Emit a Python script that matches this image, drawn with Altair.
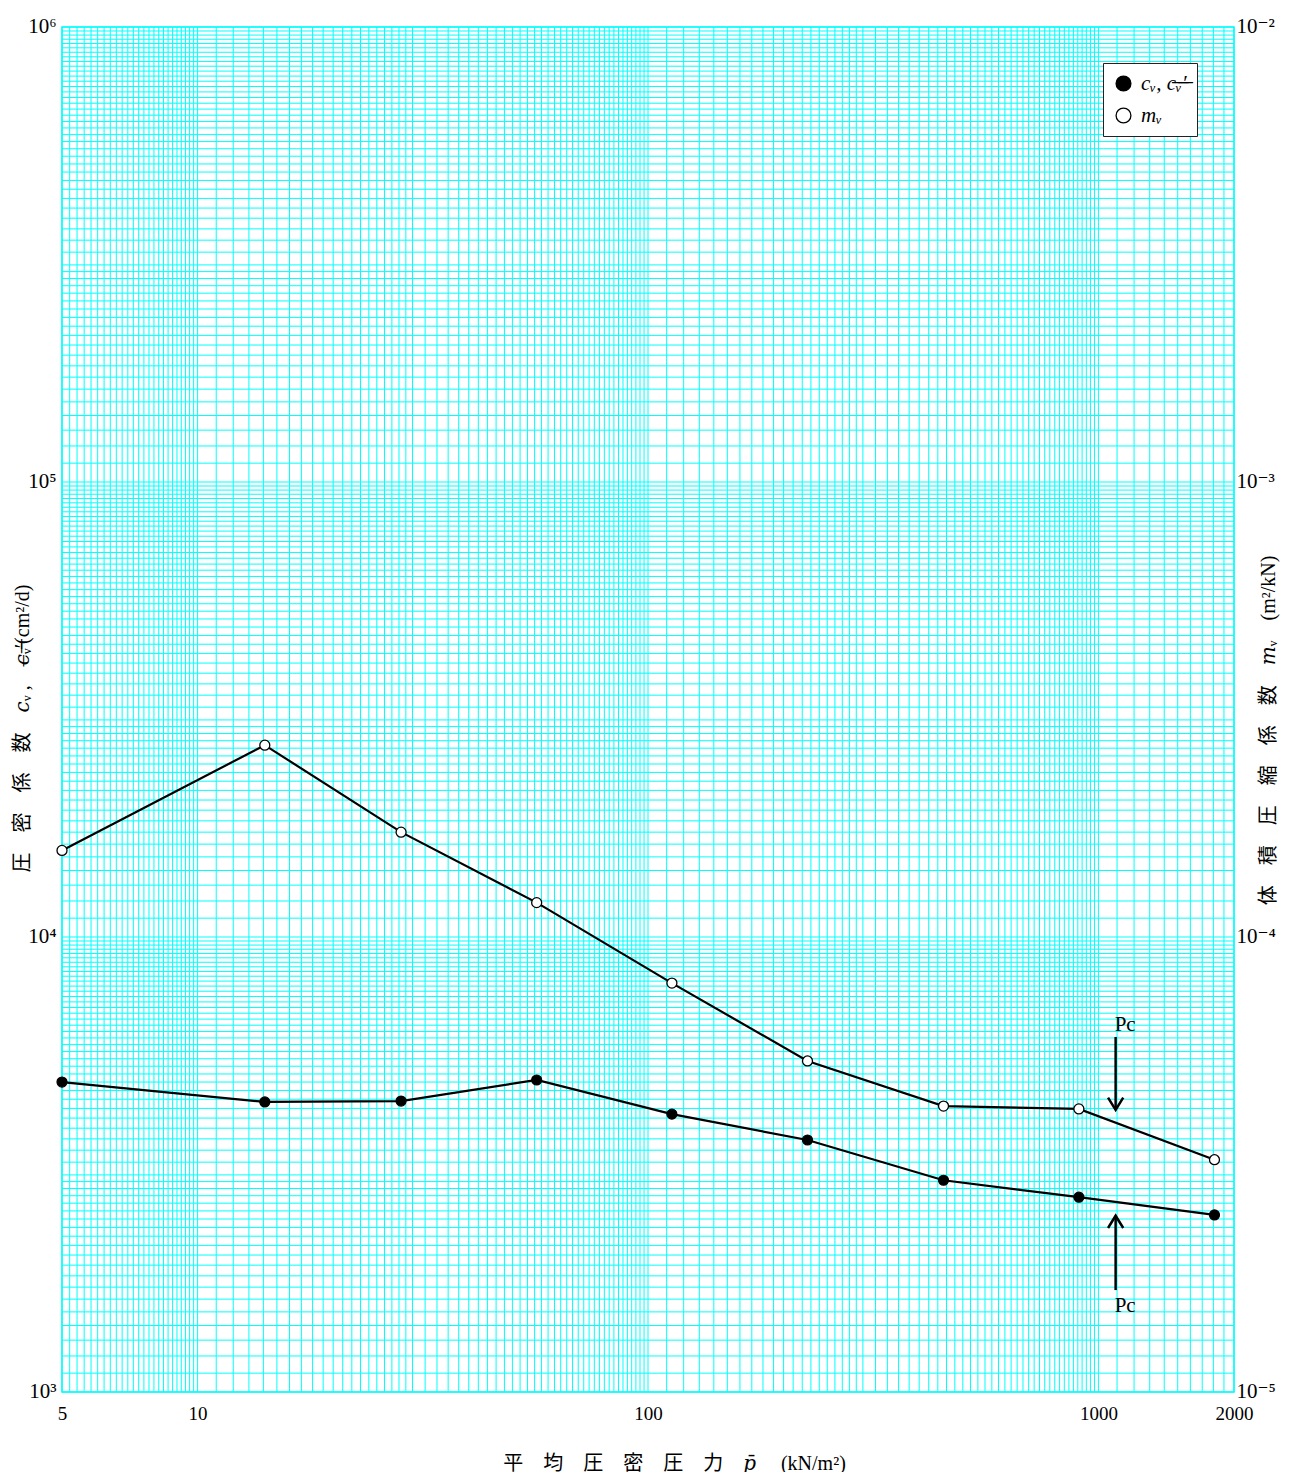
import altair as alt
import pandas as pd

# ---- data ----
pressure = [5, 14.1, 28.3, 56.6, 113, 226, 453, 905, 1810]          # mean consolidation pressure (kN/m2)
cv_values = [4800, 4340, 4360, 4850, 4080, 3580, 2920, 2680, 2450]  # cv (cm2/d)
mv_values = [1.55e-4, 2.64e-4, 1.70e-4, 1.19e-4, 7.92e-5, 5.34e-5, 4.25e-5, 4.19e-5, 3.24e-5]  # mv (m2/kN)

pc_x = [1092]
pc_down_from = [6030]   # upper arrow (points down)
pc_down_to = [4170]
pc_up_from = [1675]     # lower arrow (points up)
pc_up_to = [2440]
pc_text_y = [6410, 1545]

x_labels = [5, 10, 100, 1000, 2000]
y_labels = [1e3, 1e4, 1e5, 1e6]
y2_labels = [1e-5, 1e-4, 1e-3, 1e-2]
SERIF = "Liberation Serif, DejaVu Serif, Noto Sans CJK JP"
CYAN = "#00FFFF"

# graph paper lines: 1-3 step 0.1, 3-10 step 0.2 within each decade
mant = [round(1 + 0.1 * i, 1) for i in range(20)] + [round(3 + 0.2 * i, 1) for i in range(35)]


def paper(lo, hi):
    out = []
    for e in range(-7, 8):
        for m in mant:
            v = float(f"{m}e{e}")
            if lo * 0.99999 <= v <= hi * 1.00001:
                out.append(v)
    return sorted(set(out))


xgrid_df = pd.DataFrame({"p": paper(5, 2000)})
ygrid_df = pd.DataFrame({"v": paper(1e3, 1e6)})

cv_df = pd.DataFrame({"p": pressure, "v": cv_values, "series": "cv"})
mv_df = pd.DataFrame({"p": pressure, "v": mv_values, "series": "mv"})
down_df = pd.DataFrame({"p": pc_x, "v": pc_down_from, "v2": pc_down_to})
up_df = pd.DataFrame({"p": pc_x, "v": pc_up_from, "v2": pc_up_to})
txt_df = pd.DataFrame({"p": pc_x * 2, "v": pc_text_y, "t": ["Pc", "Pc"]})

W, H = 1172, 1365

xscale = alt.Scale(type="log", domain=[5, 2000], nice=False)
yscale = alt.Scale(type="log", domain=[1e3, 1e6], nice=False)
y2scale = alt.Scale(type="log", domain=[1e-5, 1e-2], nice=False)

x_axis = alt.Axis(
    values=x_labels, grid=False, ticks=False, domain=False, labelOverlap=False, labelFlush=False,
    labelExpr="toString(datum.value)",
    labelPadding=12, labelFontSize=19, labelFont=SERIF, labelColor="black",
    title="平　均　圧　密　圧　力　𝑝̄　 (kN/m²)", titleFont=SERIF, titleFontSize=20,
    titleFontWeight="normal", titleColor="black", titleX=612, titleY=71,
    titleAlign="center", titleBaseline="middle",
)
y_axis = alt.Axis(
    values=y_labels, grid=False, ticks=False, domain=False, labelOverlap=False, labelFlush=False,
    labelExpr="datum.value == 1000 ? '10³' : datum.value == 10000 ? '10⁴' : datum.value == 100000 ? '10⁵' : '10⁶'",
    labelPadding=6, labelFontSize=21, labelFont=SERIF, labelColor="black",
    labelBaseline="alphabetic", labelOffset=5,
    title="圧　密　係　数　𝑐ᵥ ,　𝑐̶ᵥ̶′̶(cm²/d)", titleFont=SERIF, titleFontSize=20,
    titleFontWeight="normal", titleColor="black", titleAngle=270, titleX=-40, titleY=701,
    titleAlign="center", titleBaseline="middle",
)
y2_axis = alt.Axis(
    orient="right", values=y2_labels, grid=False, ticks=False, domain=False, labelOverlap=False,
    labelFlush=False,
    labelExpr="datum.value < 5e-5 ? '10⁻⁵' : datum.value < 5e-4 ? '10⁻⁴' : datum.value < 5e-3 ? '10⁻³' : '10⁻²'",
    labelPadding=2, labelFontSize=21, labelFont=SERIF, labelColor="black",
    labelBaseline="alphabetic", labelOffset=5,
    title="体　積　圧　縮　係　数　𝑚ᵥ　(m²/kN)", titleFont=SERIF, titleFontSize=20,
    titleFontWeight="normal", titleColor="black", titleAngle=270, titleX=34, titleY=703,
    titleAlign="center", titleBaseline="middle",
)

fill_scale = alt.Scale(domain=["cv", "mv"], range=["black", "white"])
legend = alt.Legend(
    title=None, orient="none", legendX=1041, legendY=36, symbolType="circle", symbolSize=220,
    symbolStrokeColor="black", symbolStrokeWidth=1.3, symbolOpacity=1,
    labelExpr="datum.value == 'cv' ? 'cᵥ, c̶ᵥ̶′̶' : 'mᵥ'",
    labelFont=SERIF, labelFontSize=21, labelFontStyle="italic", labelColor="black",
    labelOffset=7, rowPadding=10, padding=10, strokeColor="#222222", fillColor="white",
    cornerRadius=0,
)

X = alt.X("p:Q", scale=xscale)
Y = alt.Y("v:Q", scale=yscale)
Y2 = alt.Y("v:Q", scale=y2scale)

vgrid = alt.Chart(xgrid_df).mark_rule(color=CYAN, strokeWidth=1).encode(
    x=alt.X("p:Q", scale=xscale, axis=x_axis)
)
hgrid = alt.Chart(ygrid_df).mark_rule(color=CYAN, strokeWidth=1).encode(
    y=alt.Y("v:Q", scale=yscale, axis=y_axis)
)
cv_line = alt.Chart(cv_df).mark_line(color="black", strokeWidth=2.2).encode(x=X, y=Y)
cv_pts = alt.Chart(cv_df).mark_point(filled=True, size=100, stroke="black", strokeWidth=1.2, opacity=1).encode(
    x=X, y=Y,
    fill=alt.Fill("series:N", scale=fill_scale, legend=legend),
)
down_rule = alt.Chart(down_df).mark_rule(color="black", strokeWidth=2.5).encode(x=X, y=Y, y2="v2:Q")
up_rule = alt.Chart(up_df).mark_rule(color="black", strokeWidth=2.5).encode(x=X, y=Y, y2="v2:Q")
down_head = alt.Chart(down_df).mark_point(
    shape="M-0.62,-1L0,0L0.62,-1", size=600, filled=False, stroke="black", strokeWidth=2.5, opacity=1
).encode(x=X, y=alt.Y("v2:Q", scale=yscale))
up_head = alt.Chart(up_df).mark_point(
    shape="M-0.62,1L0,0L0.62,1", size=600, filled=False, stroke="black", strokeWidth=2.5, opacity=1
).encode(x=X, y=alt.Y("v2:Q", scale=yscale))
pc_text = alt.Chart(txt_df).mark_text(
    align="left", baseline="middle", font=SERIF, fontSize=21, color="black", dx=-1
).encode(x=X, y=Y, text="t:N")

left = alt.layer(vgrid, hgrid, cv_line, down_rule, up_rule, down_head, up_head, pc_text, cv_pts)

mv_line = alt.Chart(mv_df).mark_line(color="black", strokeWidth=2.2).encode(
    x=X,
    y=alt.Y("v:Q", scale=y2scale, axis=y2_axis),
)
mv_pts = alt.Chart(mv_df).mark_point(filled=True, size=100, stroke="black", strokeWidth=1.3, opacity=1).encode(
    x=X, y=Y2,
    fill=alt.Fill("series:N", scale=fill_scale, legend=legend),
)
right = alt.layer(mv_line, mv_pts)

chart = (
    alt.layer(left, right)
    .resolve_scale(y="independent")
    .properties(
        width=W, height=H,
        autosize=alt.AutoSizeParams(type="none"),
        padding={"left": 54, "top": 19, "right": 50, "bottom": 80},
        background="white",
    )
    .configure_view(stroke=CYAN, strokeWidth=1.5)
    .configure_axis(grid=False)
)

chart.save("out.html", embed_options={"renderer": "svg", "actions": False})
